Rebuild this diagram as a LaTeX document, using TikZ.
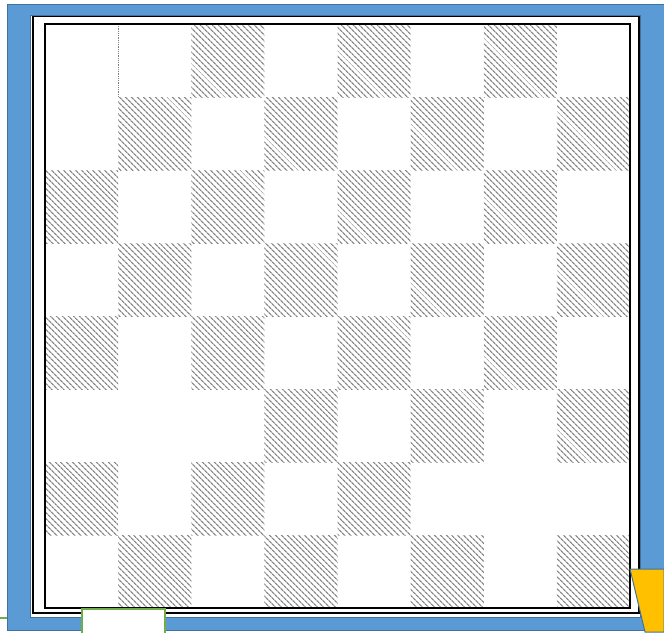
\documentclass[tikz,border=0pt]{standalone}
\usepackage{tikz}
\usetikzlibrary{patterns.meta}
\usepackage{tkz-euclide}
\definecolor{frameblue}{HTML}{5B9BD5}
\definecolor{edgeblue}{HTML}{41719C}
\definecolor{boxgreen}{HTML}{70AD47}
\definecolor{tabyellow}{HTML}{FFC000}

\begin{document}
\begin{tikzpicture}[x=1pt, y=-1pt,
        hatched/.style={pattern={Lines[angle=-45, distance=4pt, line width=1.3pt]}, pattern color=gray!95}]
                \useasboundingbox (0,0) rectangle (664,632);
                \tkzDefPoints{7/4/P, 664/630/Q, 30/15/R, 640/617/S, 45/24/A, 630/608/C, 33/16/E, 639/613/F}
                \tkzDefPoints{630/569/T, 664/569/U, 664/632/V, 645/632/W}
                % board
                \foreach \r/\cols in {0/{2,4,6}, 1/{1,3,5,7}, 2/{0,2,4,6}, 3/{1,3,5,7},
                        4/{0,2,4,6}, 5/{3,5,7}, 6/{0,2,4}, 7/{1,3,5,7}}
                    \foreach \c in \cols
                        \fill[hatched] ({45+73.125*\c},{24+73*\r}) rectangle +(73.125,73);
                \draw[gray, densely dotted, line width=0.8pt] (118,24) -- (118,97);
                \draw[black, line width=2.8pt] (A) rectangle (C);
                \draw[black, line width=1.3pt] (E) rectangle (F);
                % frame
                \filldraw[fill=frameblue, draw=edgeblue, line width=0.8pt, even odd rule] (P) rectangle (Q) (R) rectangle (S);
                \draw[boxgreen, line width=1.2pt] (0,618) -- (7,618);
                \filldraw[fill=white, draw=boxgreen, line width=1.6pt] (82,609) rectangle (165,634);
                \filldraw[fill=tabyellow, draw=edgeblue, line width=1pt] (T) -- (U) -- (V) -- (W) -- cycle;
            \end{tikzpicture}
\end{document}
